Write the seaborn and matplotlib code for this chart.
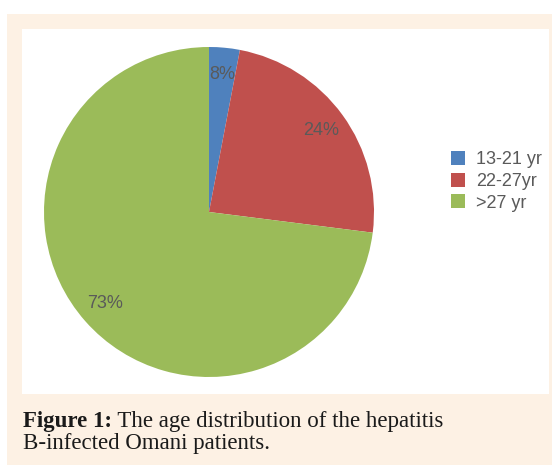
import matplotlib
matplotlib.use("Agg")
import matplotlib.pyplot as plt
from matplotlib.patches import Rectangle
import seaborn as sns

# Data (wedge sizes as drawn, labels as printed)
age_groups = ["13-21 yr", "22-27yr", ">27 yr"]
wedge_sizes = [3, 24, 73]
pct_labels = ["8%", "24%", "73%"]
colors = sns.color_palette(["#4f81bd", "#c0504d", "#9bbb59"])

sns.set_style("white")
plt.rcParams["font.family"] = ["Liberation Sans", "DejaVu Sans"]

W, H = 552, 465
fig = plt.figure(figsize=(W / 100, H / 100), dpi=100)
fig.patch.set_facecolor("white")

# beige frame and white panel
fig.add_artist(Rectangle((7 / W, 0), (W - 7) / W, (H - 14) / H,
                         transform=fig.transFigure, facecolor="#fdf1e4", edgecolor="none", zorder=0))
fig.add_artist(Rectangle((22 / W, (H - 394) / H), (549 - 22) / W, (394 - 29) / H,
                         transform=fig.transFigure, facecolor="white", edgecolor="none", zorder=0))

# pie axes
ax = fig.add_axes([44 / W, (H - 377) / H, 330 / W, 330 / H])
ax.set_facecolor("none")
wedges, texts = ax.pie(wedge_sizes, labels=pct_labels, colors=colors, startangle=90,
                       counterclock=False, labeldistance=0.84,
                       wedgeprops=dict(linewidth=0),
                       textprops=dict(color="#5a5a5a", fontsize=13))
for t in texts:
    t.set_ha("center")
    t.set_va("center")
ax.set_xlim(-1, 1)
ax.set_ylim(-1, 1)
ax.set_aspect("equal")
ax.axis("off")

leg = fig.legend(wedges, age_groups, loc="upper left",
                 bbox_to_anchor=(451 / W, (H - 151) / H), bbox_transform=fig.transFigure,
                 frameon=False, borderpad=0, borderaxespad=0,
                 handlelength=0.8, handleheight=0.8, handletextpad=0.6,
                 labelspacing=0.25, fontsize=13)
for t in leg.get_texts():
    t.set_color("#5a5a5a")

# caption
serif = ["Liberation Serif", "DejaVu Serif"]
t1 = fig.text(23 / W, (H - 427) / H, "Figure 1:", family=serif, fontweight="bold",
              fontsize=16.5, color="#1a1a1a", va="baseline")
ax.annotate(" The age distribution of the hepatitis", xy=(1, 0), xycoords=t1,
            va="bottom", ha="left", family=serif, fontsize=16.5, color="#1a1a1a",
            annotation_clip=False)
fig.text(23 / W, (H - 449) / H, "B-infected Omani patients.", family=serif,
         fontsize=16.5, color="#1a1a1a", va="baseline")

fig.savefig("out.png", dpi=100)
